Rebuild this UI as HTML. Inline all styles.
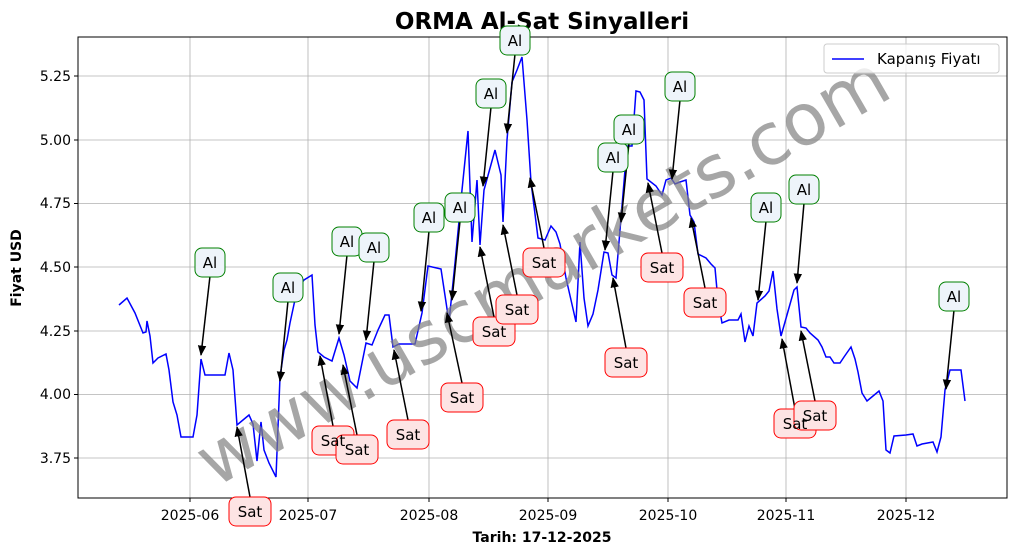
<!DOCTYPE html>
<html><head><meta charset="utf-8"><style>body{margin:0;background:#fff}svg{display:block;font-family:"DejaVu Sans","Liberation Sans",sans-serif}</style></head><body>
<svg width="1017" height="554" viewBox="0 0 1017 554" xmlns="http://www.w3.org/2000/svg">
<defs><marker id="ah" viewBox="0 0 10 10" refX="9" refY="5" markerWidth="7" markerHeight="7" orient="auto"><path d="M0,1 L10,5 L0,9 z" fill="#000"/></marker></defs>
<rect x="0" y="0" width="1017" height="554" fill="#fff"/>
<text x="542" y="29" font-size="23" font-weight="bold" text-anchor="middle">ORMA Al-Sat Sinyalleri</text>
<g stroke="#b0b0b0" stroke-width="0.8">
<line x1="190" y1="37" x2="190" y2="498"/><line x1="308" y1="37" x2="308" y2="498"/><line x1="429" y1="37" x2="429" y2="498"/><line x1="548" y1="37" x2="548" y2="498"/><line x1="668" y1="37" x2="668" y2="498"/><line x1="786" y1="37" x2="786" y2="498"/><line x1="906" y1="37" x2="906" y2="498"/>
<line x1="78" y1="76" x2="1007" y2="76"/><line x1="78" y1="140" x2="1007" y2="140"/><line x1="78" y1="203.5" x2="1007" y2="203.5"/><line x1="78" y1="267" x2="1007" y2="267"/><line x1="78" y1="331" x2="1007" y2="331"/><line x1="78" y1="394.5" x2="1007" y2="394.5"/><line x1="78" y1="458" x2="1007" y2="458"/>
</g>
<rect x="78" y="37" width="929" height="461" fill="none" stroke="#000" stroke-width="1"/>
<g font-size="14" text-anchor="middle">
<text x="190" y="520">2025-06</text><text x="308" y="520">2025-07</text><text x="429" y="520">2025-08</text><text x="548" y="520">2025-09</text><text x="668" y="520">2025-10</text><text x="786" y="520">2025-11</text><text x="906" y="520">2025-12</text>
</g>
<g font-size="14" text-anchor="end">
<text x="71" y="81">5.25</text><text x="71" y="145">5.00</text><text x="71" y="208">4.75</text><text x="71" y="272">4.50</text><text x="71" y="336">4.25</text><text x="71" y="399">4.00</text><text x="71" y="463">3.75</text>
</g>
<g stroke="#000"><line x1="190" y1="498" x2="190" y2="502"/><line x1="308" y1="498" x2="308" y2="502"/><line x1="429" y1="498" x2="429" y2="502"/><line x1="548" y1="498" x2="548" y2="502"/><line x1="668" y1="498" x2="668" y2="502"/><line x1="786" y1="498" x2="786" y2="502"/><line x1="906" y1="498" x2="906" y2="502"/>
<line x1="74" y1="76" x2="78" y2="76"/><line x1="74" y1="140" x2="78" y2="140"/><line x1="74" y1="203.5" x2="78" y2="203.5"/><line x1="74" y1="267" x2="78" y2="267"/><line x1="74" y1="331" x2="78" y2="331"/><line x1="74" y1="394.5" x2="78" y2="394.5"/><line x1="74" y1="458" x2="78" y2="458"/></g>
<text x="542" y="542" font-size="14" font-weight="bold" text-anchor="middle">Tarih: 17-12-2025</text>
<text transform="translate(21,268) rotate(-90)" font-size="14" font-weight="bold" text-anchor="middle">Fiyat USD</text>
<polyline fill="none" stroke="#0000ff" stroke-width="1.5" points="119,305 127,298 135,313 143,333 146,332 147,321 150,336 153,363 158,358 166,354 169,370 173,402 177,415 181,437 193,437 197,415 201,359 205,375 225,375 229,353 233,370 237,425 249,415 253,424 257,461 261,422 264,450 269,463 276,477 280,377 284,350 287,340 290,323 296,295 300,285 304,280 312,275 315,325 318,352 324,357 332,361 339,338 344,355 350,381 357,388 366,343 372,345 378,330 385,315 389,315 393,347 399,344 415,344 422,313 428,266 441,269 449,322 455,263 462,190 468,131 472,242 477,180 480,245 484,190 495,150 501,175 503,222 507,140 512,82 517,70 522,57 527,120 531,182 538,238 545,240 551,226 556,232 560,244 566,278 571,300 576,322 580,242 584,298 588,326 593,314 598,290 604,252 608,253 612,275 616,278 620,230 627,146 632,146 636,91 640,92 644,100 647,179 656,186 662,195 666,180 671,178 675,184 680,182 686,180 690,215 694,222 698,254 706,258 711,264 715,268 718,301 722,323 729,320 738,320 741,314 745,342 749,326 753,336 757,303 765,296 769,291 773,271 777,309 781,336 785,322 794,290 797,287 801,327 806,328 810,333 818,340 822,347 826,357 830,357 834,363 840,363 844,357 851,347 855,359 858,372 862,393 867,401 873,396 879,391 883,401 886,450 890,453 894,436 906,435 913,434 917,446 922,444 933,442 937,452 941,437 945,390 950,370 957,370 961,370 965,401"/>
<text transform="translate(545,275) rotate(-30)" font-size="72" fill="#808080" fill-opacity="0.7" text-anchor="middle" dominant-baseline="middle">www.uscmarkets.com</text>
<g stroke="#000" stroke-width="1.5" marker-end="url(#ah)">
<line x1="210" y1="276" x2="201" y2="355"/><line x1="288" y1="301" x2="280" y2="381"/><line x1="347" y1="255" x2="339" y2="334"/><line x1="374" y1="261" x2="366" y2="340"/><line x1="429" y1="231" x2="421" y2="311"/><line x1="460" y1="221" x2="452" y2="300"/><line x1="491" y1="107" x2="483" y2="186"/><line x1="515" y1="54" x2="507" y2="133"/><line x1="613" y1="171" x2="605" y2="250"/><line x1="629" y1="143" x2="621" y2="222"/><line x1="680" y1="100" x2="672" y2="179"/><line x1="766" y1="221" x2="758" y2="300"/><line x1="804" y1="203" x2="797" y2="283"/><line x1="954" y1="310" x2="946" y2="389"/>
<line x1="250" y1="497" x2="237" y2="427"/><line x1="333" y1="426" x2="320" y2="356"/><line x1="357" y1="435" x2="343" y2="365"/><line x1="408" y1="420" x2="394" y2="350"/><line x1="462" y1="383" x2="447" y2="313"/><line x1="494" y1="317" x2="480" y2="247"/><line x1="517" y1="295" x2="503" y2="225"/><line x1="544" y1="248" x2="530" y2="178"/><line x1="626" y1="348" x2="613" y2="278"/><line x1="662" y1="253" x2="648" y2="183"/><line x1="705" y1="288" x2="691" y2="218"/><line x1="795" y1="409" x2="782" y2="339"/><line x1="815" y1="401" x2="801" y2="331"/>
</g>
<g font-size="15" text-anchor="middle">
<g fill="#eef4fa" stroke="green" stroke-width="1">
<rect x="195" y="248" width="30" height="29" rx="7"/><rect x="273" y="273" width="30" height="29" rx="7"/><rect x="332" y="227" width="30" height="29" rx="7"/><rect x="359" y="233" width="30" height="29" rx="7"/><rect x="414" y="203" width="30" height="29" rx="7"/><rect x="445" y="193" width="30" height="29" rx="7"/><rect x="476" y="79" width="30" height="29" rx="7"/><rect x="500" y="26" width="30" height="29" rx="7"/><rect x="598" y="143" width="30" height="29" rx="7"/><rect x="614" y="115" width="30" height="29" rx="7"/><rect x="665" y="72" width="30" height="29" rx="7"/><rect x="751" y="193" width="30" height="29" rx="7"/><rect x="789" y="175" width="30" height="29" rx="7"/><rect x="939" y="282" width="30" height="29" rx="7"/>
</g>
<g fill="#000"><text x="210" y="268">Al</text><text x="288" y="293">Al</text><text x="347" y="247">Al</text><text x="374" y="253">Al</text><text x="429" y="223">Al</text><text x="460" y="213">Al</text><text x="491" y="99">Al</text><text x="515" y="46">Al</text><text x="613" y="163">Al</text><text x="629" y="135">Al</text><text x="680" y="92">Al</text><text x="766" y="213">Al</text><text x="804" y="195">Al</text><text x="954" y="302">Al</text></g>
<g fill="#fde4e4" stroke="red" stroke-width="1">
<rect x="229" y="497" width="42" height="29" rx="7"/><rect x="312" y="426" width="42" height="29" rx="7"/><rect x="336" y="435" width="42" height="29" rx="7"/><rect x="387" y="420" width="42" height="29" rx="7"/><rect x="441" y="383" width="42" height="29" rx="7"/><rect x="473" y="317" width="42" height="29" rx="7"/><rect x="496" y="295" width="42" height="29" rx="7"/><rect x="523" y="248" width="42" height="29" rx="7"/><rect x="605" y="348" width="42" height="29" rx="7"/><rect x="641" y="253" width="42" height="29" rx="7"/><rect x="684" y="288" width="42" height="29" rx="7"/><rect x="774" y="409" width="42" height="29" rx="7"/><rect x="794" y="401" width="42" height="29" rx="7"/>
</g>
<g fill="#000"><text x="250" y="517">Sat</text><text x="333" y="446">Sat</text><text x="357" y="455">Sat</text><text x="408" y="440">Sat</text><text x="462" y="403">Sat</text><text x="494" y="337">Sat</text><text x="517" y="315">Sat</text><text x="544" y="268">Sat</text><text x="626" y="368">Sat</text><text x="662" y="273">Sat</text><text x="705" y="308">Sat</text><text x="795" y="429">Sat</text><text x="815" y="421">Sat</text></g>
</g>
<rect x="824" y="44" width="175" height="29" rx="3" fill="#fff" fill-opacity="0.8" stroke="#ccc"/>
<line x1="832" y1="59" x2="864" y2="59" stroke="#0000ff" stroke-width="1.5"/>
<text x="877" y="64" font-size="15">Kapanış Fiyatı</text>
</svg>
</body></html>
